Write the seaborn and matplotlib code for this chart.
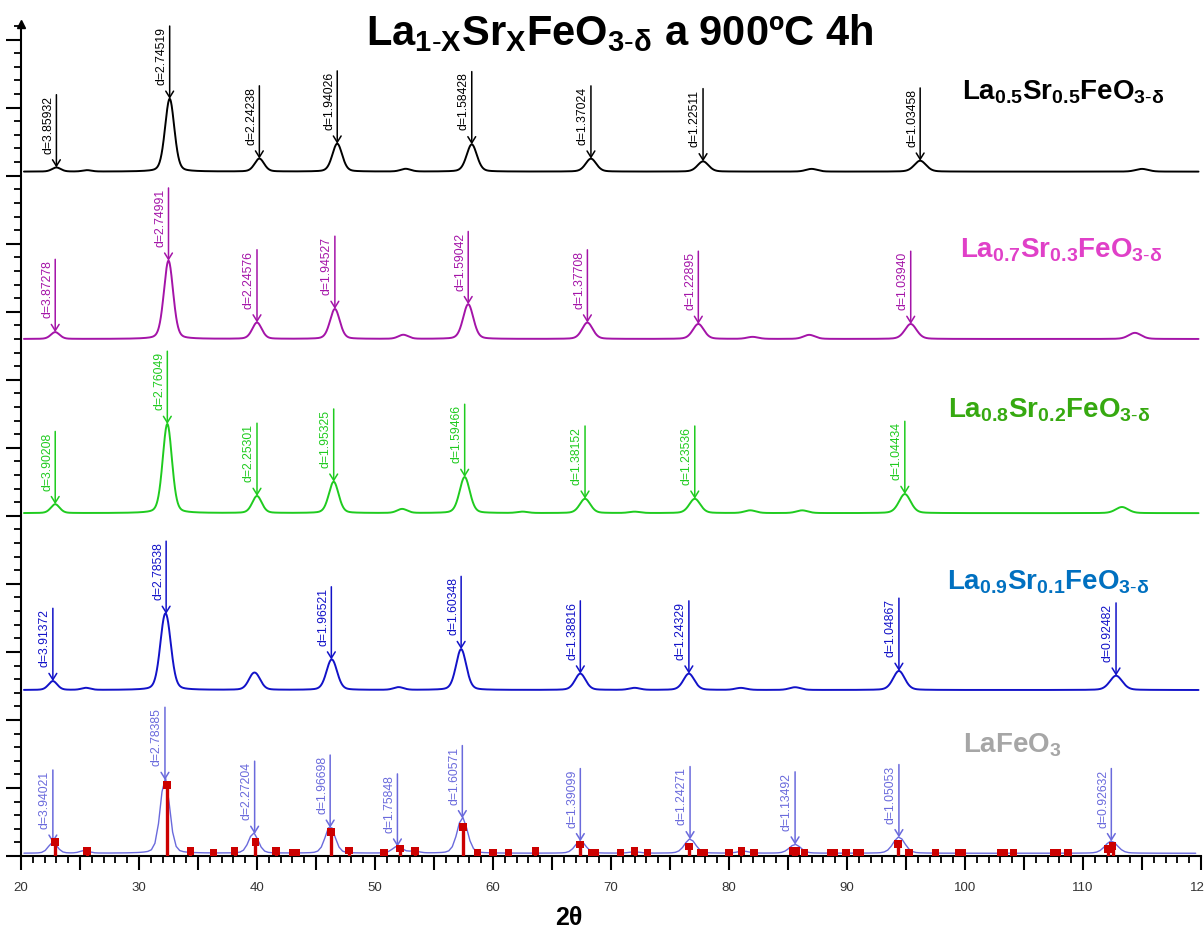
import numpy as np
import pandas as pd
import matplotlib
matplotlib.use("Agg")
import matplotlib.pyplot as plt
import seaborn as sns
from matplotlib.ticker import MultipleLocator, FuncFormatter

# ---------------- data ----------------
# La0.5Sr0.5FeO3-d (black)
lsf55_baseline = 1006
lsf55_peaks = [23.0, 25.6, 32.6, 40.2, 46.8, 52.6, 58.2, 68.3, 77.8, 87.0, 96.2, 115.0]
lsf55_heights = [6, 2, 107, 19, 41, 4, 40, 19, 15, 4, 16, 4]
lsf55_d_pos = [23.0, 32.6, 40.2, 46.8, 58.2, 68.3, 77.8, 96.2]
lsf55_d_lab = ["d=3.85932", "d=2.74519", "d=2.24238", "d=1.94026",
               "d=1.58428", "d=1.37024", "d=1.22511", "d=1.03458"]

# La0.7Sr0.3FeO3-d (magenta)
lsf73_baseline = 760
lsf73_peaks = [22.9, 32.5, 40.0, 46.6, 52.4, 57.9, 68.0, 77.4, 82.0, 86.8, 95.4, 114.4]
lsf73_heights = [10, 115, 24, 44, 6, 51, 24, 22, 3, 6, 22, 9]
lsf73_d_pos = [22.9, 32.5, 40.0, 46.6, 57.9, 68.0, 77.4, 95.4]
lsf73_d_lab = ["d=3.87278", "d=2.74991", "d=2.24576", "d=1.94527",
               "d=1.59042", "d=1.37708", "d=1.22895", "d=1.03940"]

# La0.8Sr0.2FeO3-d (green)
lsf82_baseline = 504
lsf82_peaks = [22.9, 32.4, 40.0, 46.5, 52.3, 57.6, 62.5, 67.8, 72.0, 77.1, 81.8, 86.2, 94.9, 113.3]
lsf82_heights = [13, 131, 25, 46, 6, 53, 2, 21, 2, 21, 4, 4, 28, 9]
lsf82_d_pos = [22.9, 32.4, 40.0, 46.5, 57.6, 67.8, 77.1, 94.9]
lsf82_d_lab = ["d=3.90208", "d=2.76049", "d=2.25301", "d=1.95325",
               "d=1.59466", "d=1.38152", "d=1.23536", "d=1.04434"]

# La0.9Sr0.1FeO3-d (blue)
lsf91_baseline = 244
lsf91_peaks = [22.7, 25.5, 32.1, 32.45, 39.6, 40.0, 46.2, 46.5, 52.0, 57.3,
               67.4, 72.0, 76.6, 81.0, 85.6, 94.4, 112.8]
lsf91_heights = [13, 3, 70, 55, 15, 14, 26, 22, 4, 60, 24, 3, 24, 3, 4, 28, 21]
lsf91_d_pos = [22.7, 32.3, 46.3, 57.3, 67.4, 76.6, 94.4, 112.8]
lsf91_d_lab = ["d=3.91372", "d=2.78538", "d=1.96521", "d=1.60348",
               "d=1.38816", "d=1.24329", "d=1.04867", "d=0.92482"]

# LaFeO3 (light blue) + reference pattern
lfo_baseline = 4
lfo_peaks = [22.7, 25.4, 32.2, 39.7, 46.2, 51.9, 53.3, 57.4, 67.4, 72.0, 76.7, 81.2, 85.6, 94.4, 112.4]
lfo_heights = [16, 4, 112, 30, 40, 10, 3, 53, 18, 2, 21, 3, 13, 24, 18]
lfo_d_pos = [22.7, 32.2, 39.8, 46.2, 51.9, 57.4, 67.4, 76.7, 85.6, 94.4, 112.4]
lfo_d_lab = ["d=3.94021", "d=2.78385", "d=2.27204", "d=1.96698", "d=1.75848",
             "d=1.60571", "d=1.39099", "d=1.24271", "d=1.13492", "d=1.05053", "d=0.92632"]

ref_pos = [22.87, 25.6, 32.37, 34.35, 36.3, 38.1, 39.87, 41.6, 43.0, 43.3, 46.26, 47.8,
           50.77, 52.1, 53.4, 57.45, 58.7, 60.0, 61.3, 63.6, 67.36, 68.4, 68.7, 70.8,
           72.0, 73.1, 76.6, 77.6, 77.9, 80.0, 81.05, 82.1, 85.4, 85.7, 86.4, 88.6,
           88.9, 89.9, 90.8, 91.1, 94.3, 95.25, 97.5, 99.5, 99.8, 103.0, 103.3, 104.1,
           107.5, 107.8, 108.75, 112.1, 112.5]
ref_int = [21, 7, 104, 7, 5, 7, 21, 7, 5, 5, 35, 8,
           5, 11, 7, 43, 5, 5, 5, 7, 17, 5, 5, 5,
           7, 5, 14, 5, 5, 5, 7, 5, 7, 7, 5, 5,
           5, 5, 5, 5, 18, 5, 5, 5, 5, 5, 5, 5,
           5, 5, 5, 10, 15]

labels = ["La0.5Sr0.5FeO3-δ", "La0.7Sr0.3FeO3-δ", "La0.8Sr0.2FeO3-δ", "La0.9Sr0.1FeO3-δ", "LaFeO3"]

# ---------------- style ----------------
sns.set_theme(style="ticks")
plt.rcParams["font.family"] = ["Liberation Sans", "DejaVu Sans"]
plt.rcParams["text.color"] = "black"
plt.rcParams["mathtext.fontset"] = "custom"
plt.rcParams["mathtext.rm"] = "Liberation Sans"
plt.rcParams["mathtext.bf"] = "Liberation Sans:bold"
plt.rcParams["mathtext.it"] = "Liberation Sans:italic"


def profile(x, centers, heights):
    y = np.zeros_like(x)
    for c, h in zip(centers, heights):
        w = 0.8 + 0.004 * c
        u = (x - c) / w
        y += h * (0.75 * np.exp(-4 * np.log(2) * u ** 2) + 0.25 / (1 + 4 * u ** 2))
    return y


series = [
    dict(base=lsf55_baseline, pk=lsf55_peaks, h=lsf55_heights, dp=lsf55_d_pos, dl=lsf55_d_lab,
         color="#000000", step=0.02, lw=1.4),
    dict(base=lsf73_baseline, pk=lsf73_peaks, h=lsf73_heights, dp=lsf73_d_pos, dl=lsf73_d_lab,
         color="#A414A8", step=0.02, lw=1.4),
    dict(base=lsf82_baseline, pk=lsf82_peaks, h=lsf82_heights, dp=lsf82_d_pos, dl=lsf82_d_lab,
         color="#1FCB1F", step=0.02, lw=1.4),
    dict(base=lsf91_baseline, pk=lsf91_peaks, h=lsf91_heights, dp=lsf91_d_pos, dl=lsf91_d_lab,
         color="#1212C8", step=0.02, lw=1.4),
    dict(base=lfo_baseline, pk=lfo_peaks, h=lfo_heights, dp=lfo_d_pos, dl=lfo_d_lab,
         color="#6A6ADC", step=0.3, lw=1.0),
]

fig = plt.figure(figsize=(12.04, 9.28), dpi=100)
ax = fig.add_axes([21 / 1204, 71 / 928, 1180 / 1204, 832 / 928])
ax.set_xlim(20, 120)
ax.set_ylim(0, 1223)

for s in series:
    x = np.arange(20.25, 119.8, s["step"])
    y = s["base"] + profile(x, s["pk"], s["h"])
    df = pd.DataFrame({"two_theta": x, "intensity": y})
    sns.lineplot(data=df, x="two_theta", y="intensity", ax=ax, color=s["color"],
                 lw=s["lw"], estimator=None, sort=False, zorder=3)
    for pos, lab in zip(s["dp"], s["dl"]):
        tip = np.interp(pos, x, y)
        top = tip + 107
        ax.annotate("", xy=(pos, tip), xytext=(pos, top),
                    arrowprops=dict(arrowstyle="->,head_length=0.45,head_width=0.28",
                                    color=s["color"], lw=1.1, shrinkA=0, shrinkB=0,
                                    mutation_scale=10), zorder=4)
        ax.annotate(lab, xy=(pos, top), xytext=(-1.5, 0), textcoords="offset points",
                    rotation=90, ha="right", va="top", fontsize=8.8, color=s["color"],
                    zorder=4)

# reference sticks with square markers
ax.vlines(ref_pos, 0, ref_int, colors="#CC0000", lw=2.4, zorder=5)
sns.scatterplot(x=ref_pos, y=ref_int, ax=ax, marker="s", s=30, color="#CC0000",
                edgecolor="none", linewidth=0, zorder=6, legend=False)

# axes styling
ax.set_xlabel("")
ax.set_ylabel("")
for sp in ("top", "right"):
    ax.spines[sp].set_visible(False)
for sp in ("left", "bottom"):
    ax.spines[sp].set_linewidth(1.5)
    ax.spines[sp].set_color("black")
ax.xaxis.set_major_locator(MultipleLocator(5))
ax.xaxis.set_minor_locator(MultipleLocator(1))
ax.xaxis.set_major_formatter(FuncFormatter(lambda v, p: f"{int(round(v))}" if round(v) % 10 == 0 else ""))
ax.yaxis.set_major_locator(MultipleLocator(100))
ax.yaxis.set_minor_locator(MultipleLocator(20))
ax.set_yticklabels([])
ax.tick_params(axis="x", which="major", length=10, width=1.5, color="black",
               labelsize=9.5, labelcolor="#333333", pad=8, direction="out")
ax.tick_params(axis="x", which="minor", length=5, width=1.3, color="black", direction="out")
ax.tick_params(axis="y", which="major", length=11, width=1.5, color="black", direction="out",
               labelleft=False)
ax.tick_params(axis="y", which="minor", length=5, width=1.3, color="black", direction="out")
ax.plot([0], [1.0], marker="^", ms=6, color="black", transform=ax.transAxes, clip_on=False)

# titles and labels
fig.text(620 / 1204, 1 - 45 / 928,
         r"$\mathbf{La_{1\text{-}X}Sr_{X}FeO_{3\text{-}\delta}}$" + " a 900ºC 4h",
         fontsize=30, fontweight="bold", color="black", ha="center", va="baseline")
fig.text(569 / 1204, 1 - 925 / 928, "2θ", fontsize=18, fontweight="bold", color="black",
         ha="center", va="baseline")

label_tex = [r"$\mathbf{La_{0.5}Sr_{0.5}FeO_{3\text{-}\delta}}$",
             r"$\mathbf{La_{0.7}Sr_{0.3}FeO_{3\text{-}\delta}}$",
             r"$\mathbf{La_{0.8}Sr_{0.2}FeO_{3\text{-}\delta}}$",
             r"$\mathbf{La_{0.9}Sr_{0.1}FeO_{3\text{-}\delta}}$",
             r"$\mathbf{LaFeO_{3}}$"]
label_xy = [(962, 100), (960, 257), (948, 418), (947, 590), (963, 753)]
label_col = ["#000000", "#E040C8", "#36A910", "#0070C0", "#A6A6A6"]
for t, (lx, ly), c in zip(label_tex, label_xy, label_col):
    fig.text(lx / 1204, 1 - ly / 928, t, fontsize=20, color=c, ha="left", va="baseline")

fig.savefig("out.png", dpi=100)
